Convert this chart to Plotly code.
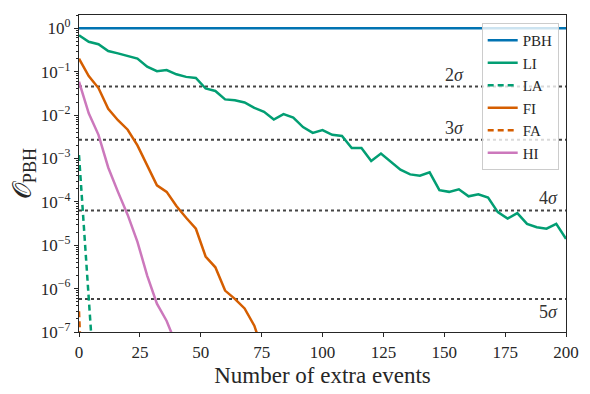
import plotly.graph_objects as go
import math

# event grid (every 4 extra events)
events = [0, 4, 8, 12, 16, 20, 24, 28, 32, 36, 40, 44, 48, 52, 56, 60, 64, 68, 72, 76,
          80, 84, 88, 92, 96, 100, 104, 108, 112, 116, 120, 124, 128, 132, 136, 140,
          144, 148, 152, 156, 160, 164, 168, 172, 176, 180, 184, 188, 192, 196, 200]

pbh = [1.0] * len(events)

li = [0.69, 0.49, 0.43, 0.30, 0.265, 0.23, 0.20, 0.13, 0.103, 0.109, 0.087, 0.076,
      0.072, 0.041, 0.036, 0.023, 0.022, 0.0195, 0.0147, 0.0119, 0.0079, 0.0105,
      0.0088, 0.0053, 0.0039, 0.0045, 0.0035, 0.0033, 0.00175, 0.00175, 0.00088,
      0.0013, 0.00083, 0.00055, 0.00043, 0.0004, 0.00048, 0.000186, 0.00017,
      0.000195, 0.000134, 0.000149, 0.000125, 5.8e-5, 4.1e-5, 5.5e-5, 3.1e-5,
      2.6e-5, 2.4e-5, 3.1e-5, 1.4e-5]

la_x = [0, 4, 8]
la = [1.2e-3, 5.6e-7, 3e-10]

fi_x = [0, 4, 8, 12, 16, 20, 24, 28, 32, 36, 40, 44, 48, 52, 56, 60, 64, 68, 72, 76]
fi = [0.20, 0.079, 0.042, 0.014, 0.0076, 0.0046, 0.002, 0.00068, 0.00024, 0.00017,
      8e-5, 4.3e-5, 2.4e-5, 5.5e-6, 3.1e-6, 9e-7, 5.8e-7, 3.5e-7, 1.4e-7, 3e-8]

fa_x = [0, 4]
fa = [3e-7, 1e-12]

hi_x = [0, 4, 8, 12, 16, 20, 24, 28, 32, 36, 40]
hi = [0.059, 0.011, 0.0035, 0.00062, 0.00017, 5e-5, 1.2e-5, 2e-6, 4.5e-7, 1.8e-7, 5e-8]

# two-sided p-values for n sigma
sigma_labels = ["2", "3", "4", "5"]
sigma_p = [0.0455, 0.0027, 6.33e-5, 5.73e-7]

blue = "#0173b2"
green = "#029e73"
orange = "#d55e00"
pink = "#cc78bc"
font = "Liberation Serif"

fig = go.Figure()

for p in sigma_p:
    fig.add_trace(go.Scatter(x=[0, 200], y=[p, p], mode="lines", showlegend=False,
                             line=dict(color="#444444", width=2, dash="dot"),
                             hoverinfo="skip"))

fig.add_trace(go.Scatter(x=events, y=pbh, mode="lines", name="PBH",
                         line=dict(color=blue, width=2.5)))
fig.add_trace(go.Scatter(x=events, y=li, mode="lines", name="LI",
                         line=dict(color=green, width=2.5)))
fig.add_trace(go.Scatter(x=la_x, y=la, mode="lines", name="LA",
                         line=dict(color=green, width=2.5, dash="6px,4px")))
fig.add_trace(go.Scatter(x=fi_x, y=fi, mode="lines", name="FI",
                         line=dict(color=orange, width=2.5)))
fig.add_trace(go.Scatter(x=fa_x, y=fa, mode="lines", name="FA",
                         line=dict(color=orange, width=2.5, dash="6px,4px")))
fig.add_trace(go.Scatter(x=hi_x, y=hi, mode="lines", name="HI",
                         line=dict(color=pink, width=2.5)))

# sigma labels
label_x = [159, 159, 197.5, 197.5]
label_side = ["bottom", "bottom", "bottom", "top"]
for txt, p, lx, side in zip(sigma_labels, sigma_p, label_x, label_side):
    fig.add_annotation(x=lx, y=math.log10(p), xref="x", yref="y",
                       text=txt + "<i>σ</i>", showarrow=False,
                       xanchor="right", yanchor=side, yshift=0 if side == "bottom" else -1,
                       font=dict(family=font, size=18, color="#333333"))

ytick_vals = [1, 1e-1, 1e-2, 1e-3, 1e-4, 1e-5, 1e-6, 1e-7]
ytick_text = ["10<sup>0</sup>"] + ["10<sup>−%d</sup>" % k for k in range(1, 8)]

# page body has an 8px margin, so the figure is shrunk by that amount
fig.update_layout(
    width=582, height=386,
    margin=dict(l=71, r=24, t=7, b=62),
    paper_bgcolor="white", plot_bgcolor="white",
    font=dict(family=font, size=17, color="#262626"),
    legend=dict(x=0.985, y=0.975, xanchor="right", yanchor="top",
                bgcolor="rgba(255,255,255,0.8)", bordercolor="#cccccc", borderwidth=1,
                font=dict(size=15), tracegroupgap=0),
    xaxis=dict(range=[0, 200], tickvals=[0, 25, 50, 75, 100, 125, 150, 175, 200],
               showgrid=False, zeroline=False, showline=True, linecolor="#262626",
               linewidth=1.2, mirror=True, ticks="outside", ticklen=4,
               tickcolor="#262626",
               title=dict(text="Number of extra events", font=dict(size=23), standoff=6)),
    yaxis=dict(type="log", range=[-7, 0.307], tickvals=ytick_vals, ticktext=ytick_text,
               showgrid=False, zeroline=False, showline=True, linecolor="#262626",
               linewidth=1.2, mirror=True, ticks="outside", ticklen=4,
               tickcolor="#262626",
               minor=dict(ticks="outside", ticklen=2, dtick="D1", tickcolor="#262626",
                          showgrid=False),
               title=dict(text="𝒪<sub>PBH</sub>", font=dict(size=26), standoff=4)),
)

fig.write_html("out.html")
